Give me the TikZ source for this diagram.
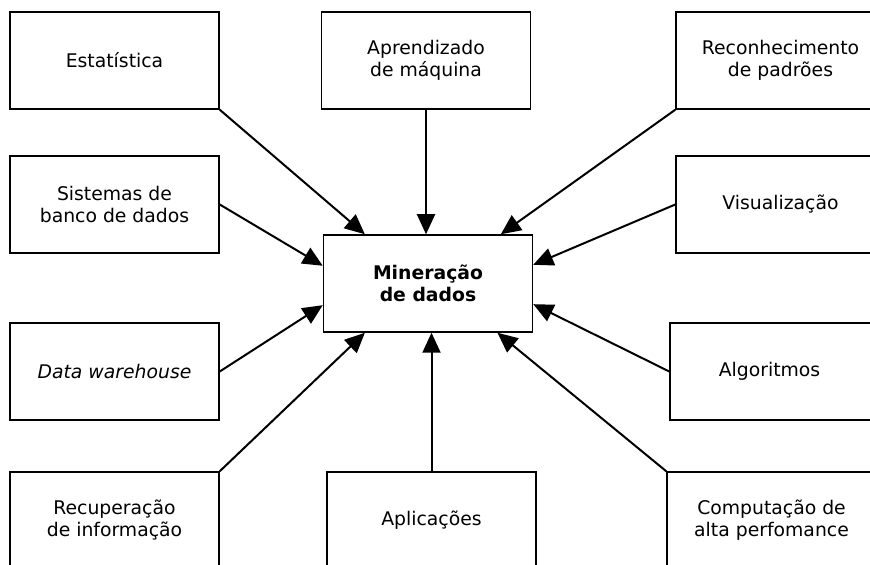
\documentclass[tikz,border=0pt]{standalone}
\usepackage{fontspec}
\setmainfont{DejaVu Sans}
\usepackage{tikz}
\usetikzlibrary{positioning, arrows.meta, calc}

\begin{document}
\begin{tikzpicture}[x=0.5pt, y=-0.5pt,
      box/.style={rectangle, draw=black, line width=0.75pt, fill=white, minimum width=104.5pt, minimum height=48.5pt, inner sep=0pt, align=center, font=\fontsize{9.4}{11}\selectfont},
      core/.style={box, font=\fontsize{9.4}{11}\selectfont\bfseries},
      feed/.style={-{Triangle[length=10pt, width=9pt]}, line width=1pt, black}
    ]
      \clip (0,0) rectangle (870,565);
      \fill[white] (0,0) rectangle (870,565);

      \node[core] (mine) at (428,283.5) {Mineração\\de dados};

      \node[box] (est) at (114.5,60.5) {Estatística};
      \node[box] (apr) at (426,60.5) {Aprendizado\\de máquina};
      \node[box] (rec) at (780.5,60.5) {Reconhecimento\\de padrões};
      \node[box] (sbd) at (114.5,204.5) {Sistemas de\\banco de dados};
      \node[box] (vis) at (780.5,204.5) {Visualização};
      \node[box] (dw) at (114.5,371.5) {\itshape Data warehouse};
      \node[box] (alg) at (774.5,371.5) {\hspace*{-5pt}Algoritmos};
      \node[box] (rin) at (114.5,520.5) {Recuperação\\de informação};
      \node[box] (apl) at (431.5,520.5) {Aplicações};
      \node[box] (hpc) at (771.5,520.5) {Computação de\\alta perfomance};

      \draw[feed] (est.south east) -- ($(mine.north west)!0.2!(mine.north east)$);
      \draw[feed] (apr.south) -- (apr.south |- mine.north);
      \draw[feed] (rec.south west) -- ($(mine.north west)!0.846!(mine.north east)$);
      \draw[feed] (sbd.east) -- ($(mine.north west)!0.32!(mine.south west)$);
      \draw[feed] (vis.west) -- ($(mine.north east)!0.31!(mine.south east)$);
      \draw[feed] (dw.east) -- ($(mine.north west)!0.72!(mine.south west)$);
      \draw[feed] (alg.west) -- ($(mine.north east)!0.71!(mine.south east)$);
      \draw[feed] (rin.north east) -- ($(mine.south west)!0.2!(mine.south east)$);
      \draw[feed] (apl.north) -- (apl.north |- mine.south);
      \draw[feed] (hpc.north west) -- ($(mine.south west)!0.83!(mine.south east)$);
    \end{tikzpicture}
\end{document}
